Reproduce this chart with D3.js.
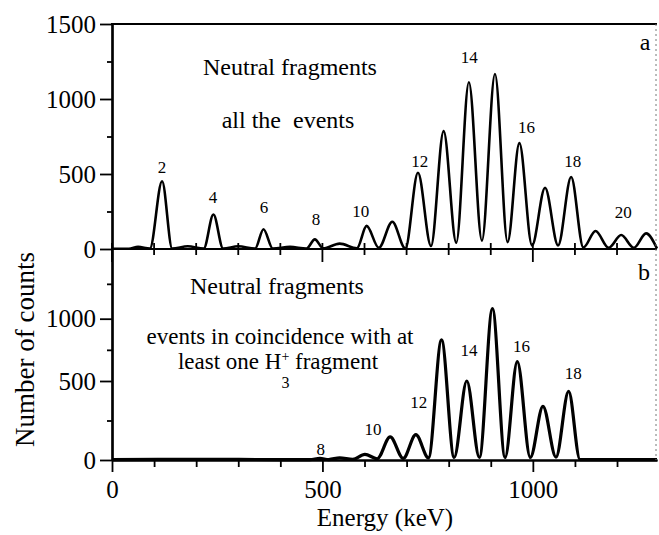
<!DOCTYPE html>
<html>
<head>
<meta charset="utf-8">
<title>Neutral fragments energy spectrum</title>
<script src="https://cdn.jsdelivr.net/npm/d3@7"></script>
<style>html, body { margin: 0; padding: 0; background: #fff; }</style>
</head>
<body>
<div id="chart"></div>
<script>
(function () {
    'use strict';

    var W = 659;
    var H = 535;
    var SERIF = 'Liberation Serif';

    // ---- data (energy in keV, counts) ------------------------------------
    // panel a: all the events (valleys and peak tops, in order)
    var energyA = [0, 40, 62, 90, 119, 143, 180, 218, 241, 264, 300, 340, 360, 382, 423, 462,
        482, 502, 541, 582, 605, 634, 666, 697, 727, 758, 788, 818, 848, 879, 910, 940, 968,
        998, 1029, 1060, 1091, 1120, 1149, 1180, 1210, 1240, 1269, 1295];
    var countsA = [2, 2, 14, 3, 452, 3, 18, 3, 230, 3, 18, 3, 132, 3, 14, 3,
        64, 4, 36, 5, 154, 8, 182, 3, 508, 20, 786, 42, 1112, 56, 1167, 46, 706,
        24, 408, 24, 480, 10, 120, 8, 93, 8, 104, 3];

    // panel b: events in coincidence with at least one H3+ fragment
    var energyB = [0, 200, 400, 470, 494, 515, 541, 572, 601, 630, 661, 692, 722, 752, 783,
        813, 843, 873, 904, 934, 963, 994, 1024, 1055, 1085, 1112, 1200, 1295];
    var countsB = [3, 4, 3, 3, 10, 3, 14, 4, 36, 8, 146, 10, 160, 14, 830,
        16, 500, 16, 1072, 16, 656, 16, 340, 18, 434, 3, 3, 3];

    // peak labels (fragment size) and where they sit, in data units
    var labelsA = ['2', '4', '6', '8', '10', '12', '14', '16', '18', '20'];
    var labelEnergyA = [119, 240, 361, 485, 591, 731, 849, 985, 1095, 1215];
    var labelCountsA = [507, 307, 240, 160, 213, 547, 1240, 773, 547, 207];

    var labelsB = ['8', '10', '12', '14', '16', '18'];
    var labelEnergyB = [496, 620, 729, 848, 973, 1096];
    var labelCountsB = [32, 158, 329, 700, 733, 519];

    var xMajorTicks = [0, 500, 1000];
    var xMinorTicks = [100, 200, 300, 400, 600, 700, 800, 900, 1100, 1200];
    var yMajorTicksA = [0, 500, 1000, 1500];
    var yMajorTicksB = [0, 500, 1000];
    var yMinorTicks = [250, 750, 1250];

    // ---- layout ------------------------------------------------------------
    var left = 112;
    var right = 657;
    var topA = 24;
    var midY = 249;
    var bottomB = 460;

    var x = d3.scaleLinear().domain([0, 1295]).range([left, right]);
    var yA = d3.scaleLinear().domain([0, 1500]).range([midY, topA]);
    // the scanned lower axis is not quite even, so follow its tick marks
    var yB = d3.scaleLinear().domain([0, 500, 1000, 1500]).range([bottomB, 381, 318.7, midY]);

    var svg = d3.select('#chart').append('svg')
        .attr('width', W)
        .attr('height', H)
        .attr('font-family', SERIF);

    // ---- spectra -------------------------------------------------------------
    function drawSpectrum(energy, counts, y, width) {
        var pts = energy.map(function (e, i) { return [e, counts[i]]; });
        var line = d3.line()
            .x(function (d) { return x(d[0]); })
            .y(function (d) { return y(d[1]); })
            .curve(d3.curveMonotoneX);
        svg.append('path')
            .datum(pts)
            .attr('fill', 'none')
            .attr('stroke', '#000')
            .attr('stroke-width', width)
            .attr('stroke-linejoin', 'round')
            .attr('d', line);
    }
    drawSpectrum(energyA, countsA, yA, 2.6);
    drawSpectrum(energyB, countsB, yB, 3.2);

    // ---- axes ------------------------------------------------------------------
    function styleAxis(g) {
        g.attr('font-family', SERIF).attr('font-size', 25);
        g.selectAll('.domain').attr('stroke-width', 2.2);
        g.selectAll('.tick line').attr('stroke-width', 1.8);
        g.selectAll('.tick text').attr('font-family', SERIF).attr('font-size', 25);
    }

    svg.append('g')
        .attr('transform', 'translate(' + left + ',0)')
        .call(d3.axisLeft(yA).tickValues(yMajorTicksA).tickSize(12).tickSizeOuter(0)
            .tickPadding(4).tickFormat(d3.format('d')))
        .call(styleAxis);
    svg.append('g')
        .attr('transform', 'translate(' + left + ',0)')
        .call(d3.axisLeft(yA).tickValues(yMinorTicks).tickSize(5).tickSizeOuter(0).tickFormat(''))
        .call(styleAxis);

    svg.append('g')
        .attr('transform', 'translate(' + left + ',0)')
        .call(d3.axisLeft(yB).tickValues(yMajorTicksB).tickSize(12).tickSizeOuter(0)
            .tickPadding(4).tickFormat(d3.format('d')))
        .call(styleAxis);
    svg.append('g')
        .attr('transform', 'translate(' + left + ',0)')
        .call(d3.axisLeft(yB).tickValues(yMinorTicks).tickSize(5).tickSizeOuter(0).tickFormat(''))
        .call(styleAxis);

    // bottom energy axis
    svg.append('g')
        .attr('transform', 'translate(0,' + bottomB + ')')
        .call(d3.axisBottom(x).tickValues(xMajorTicks).tickSize(12).tickSizeOuter(0)
            .tickPadding(8).tickFormat(d3.format('d')))
        .call(styleAxis);
    svg.append('g')
        .attr('transform', 'translate(0,' + bottomB + ')')
        .call(d3.axisBottom(x).tickValues(xMinorTicks).tickSize(7).tickSizeOuter(0).tickFormat(''))
        .call(styleAxis);

    // shared axis between the panels, ticks cross it
    var mid = svg.append('g');
    mid.append('line')
        .attr('x1', left).attr('x2', right)
        .attr('y1', midY).attr('y2', midY)
        .attr('stroke', '#000').attr('stroke-width', 2.2);
    mid.selectAll('line.minor')
        .data(xMinorTicks)
        .join('line')
        .attr('class', 'minor')
        .attr('x1', x).attr('x2', x)
        .attr('y1', midY - 6).attr('y2', midY + 6)
        .attr('stroke', '#000').attr('stroke-width', 1.8);
    mid.selectAll('line.major')
        .data(xMajorTicks)
        .join('line')
        .attr('class', 'major')
        .attr('x1', x).attr('x2', x)
        .attr('y1', midY - 6).attr('y2', midY + 13)
        .attr('stroke', '#000').attr('stroke-width', 1.8);

    // frame: solid top, faint dotted right edge
    svg.append('line')
        .attr('x1', left - 1).attr('x2', right)
        .attr('y1', topA).attr('y2', topA)
        .attr('stroke', '#000').attr('stroke-width', 2.2);
    svg.append('line')
        .attr('x1', right - 1).attr('x2', right - 1)
        .attr('y1', topA).attr('y2', bottomB)
        .attr('stroke', '#777').attr('stroke-width', 1)
        .attr('stroke-dasharray', '2,3');

    // ---- texts ---------------------------------------------------------------------
    function note(str, cx, by, size) {
        return svg.append('text')
            .attr('x', cx).attr('y', by)
            .attr('text-anchor', 'middle')
            .attr('font-family', SERIF)
            .attr('font-size', size || 24)
            .text(str);
    }

    note('Energy (keV)', 385, 526, 25);
    note('Number of counts', 0, 0, 27)
        .attr('text-anchor', 'start')
        .attr('transform', 'translate(34,447) rotate(-90)');

    function peakLabels(labels, energy, counts, y) {
        labels.forEach(function (lab, i) {
            note(lab, x(energy[i]), y(counts[i]), 17);
        });
    }
    peakLabels(labelsA, labelEnergyA, labelCountsA, yA);
    peakLabels(labelsB, labelEnergyB, labelCountsB, yB);

    note('Neutral fragments', 290, 75);
    note('all the\u00a0 events', 288, 128);
    note('a', 645, 50);

    note('Neutral fragments', 277, 294);
    note('events in coincidence with at', 280, 344, 23);
    note('b', 644, 280);

    var h3 = note('', 278, 369, 23);
    h3.append('tspan').text('least one H');
    h3.append('tspan').attr('font-size', 14).attr('dy', -8).text('+');
    h3.append('tspan').attr('dy', 8).text(' fragment');
    var plusPos = h3.node().getStartPositionOfChar(11);
    note('3', plusPos.x + 4, 388, 16);
})();
</script>
</body>
</html>
